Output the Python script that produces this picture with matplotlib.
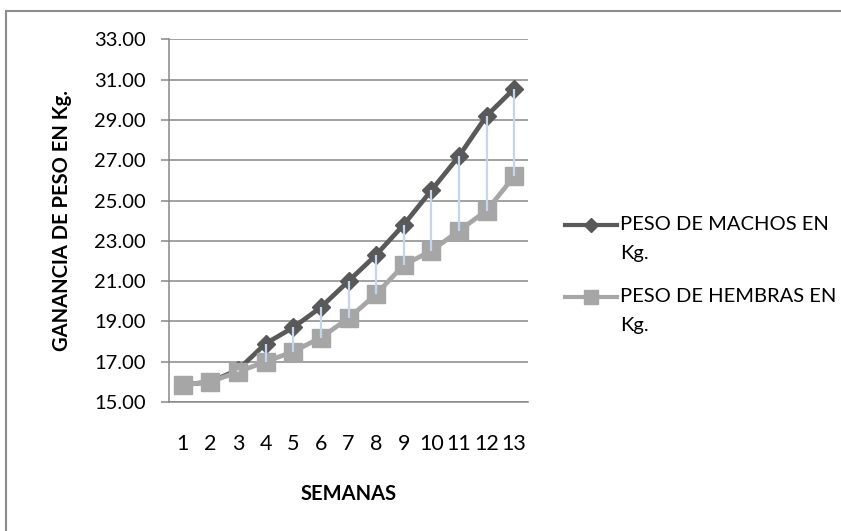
import matplotlib
matplotlib.use("Agg")
import matplotlib.pyplot as plt
from matplotlib.lines import Line2D
from matplotlib.patches import Rectangle
from matplotlib.ticker import FormatStrFormatter

plt.rcParams['font.family'] = ['Lato', 'DejaVu Sans']

semanas = [1, 2, 3, 4, 5, 6, 7, 8, 9, 10, 11, 12, 13]
machos = [15.85, 16.0, 16.6, 17.9, 18.7, 19.7, 21.0, 22.3, 23.8, 25.5, 27.2, 29.2, 30.55]
hembras = [15.85, 16.0, 16.5, 17.0, 17.5, 18.2, 19.15, 20.35, 21.8, 22.5, 23.5, 24.5, 26.2]
yticks = [15, 17, 19, 21, 23, 25, 27, 29, 31, 33]
label_machos = "PESO DE MACHOS EN\nKg."
label_hembras = "PESO DE HEMBRAS EN\nKg."

W, H = 841, 531
fig = plt.figure(figsize=(W / 100, H / 100), dpi=100)
ax = fig.add_axes([169 / W, 1 - 402 / H, (528 - 169) / W, (402 - 39.3) / H])

grid_c = '#878787'
c_m = '#595959'
c_h = '#a6a6a6'
c_hl = '#c3d5ef'

ax.plot(semanas, machos, color=c_m, lw=3.4, marker='D', ms=9.5,
        markeredgecolor=c_m, zorder=3, solid_capstyle='round')
ax.plot(semanas, hembras, color=c_h, lw=3.4, marker='s', ms=12.5,
        markeredgecolor=c_h, zorder=4)
ax.vlines(semanas, hembras, machos, colors=c_hl, lw=1.6, zorder=5)

ax.set_xlim(0.5, 13.5)
ax.set_ylim(15, 33)
ax.set_yticks(yticks)
ax.yaxis.set_major_formatter(FormatStrFormatter('%.2f'))
ax.set_xticks(semanas)
ax.set_xticklabels([str(s) for s in semanas])
ax.yaxis.grid(True, color=grid_c, lw=1.1)
ax.set_axisbelow(True)
for s in ['top', 'right']:
    ax.spines[s].set_visible(False)
ax.spines['left'].set_color(grid_c)
ax.spines['left'].set_linewidth(1.1)
ax.spines['bottom'].set_color(grid_c)
ax.spines['bottom'].set_linewidth(1.1)
ax.tick_params(axis='y', length=5.8, width=1.1, color=grid_c, pad=11,
               labelsize=14.5, labelcolor='black')
ax.tick_params(axis='x', length=0, pad=23, labelsize=15.5, labelcolor='black')

ax.set_ylabel("GANANCIA DE PESO EN Kg.", fontsize=14.5, fontweight='bold', labelpad=16)
ax.set_xlabel("SEMANAS", fontsize=14.5, fontweight='bold', labelpad=22)

# legend drawn manually (handles styled like the series)
def leg_entry(y_px, color, marker, ms, label):
    yf = 1 - y_px / H
    fig.add_artist(Line2D([565 / W, 617 / W], [yf, yf], color=color, lw=3.0,
                          transform=fig.transFigure))
    fig.add_artist(Line2D([591 / W], [yf], color=color, marker=marker, ms=ms,
                          markeredgecolor=color, transform=fig.transFigure, lw=0))
    fig.text(620 / W, yf, label.split('\n')[0], fontsize=14.5, va='center', ha='left')
    fig.text(620 / W, 1 - (y_px + 28) / H, label.split('\n')[1], fontsize=14.5,
             va='center', ha='left')

leg_entry(225, c_m, 'D', 7, label_machos)
leg_entry(297, c_h, 's', 10.5, label_hembras)

fig.add_artist(Rectangle((6 / W, -0.2), 1.5, 1 - 11 / H + 0.2, transform=fig.transFigure,
                         fill=False, edgecolor='#8c8c8c', lw=1.5))

fig.savefig('out.png', dpi=100)
